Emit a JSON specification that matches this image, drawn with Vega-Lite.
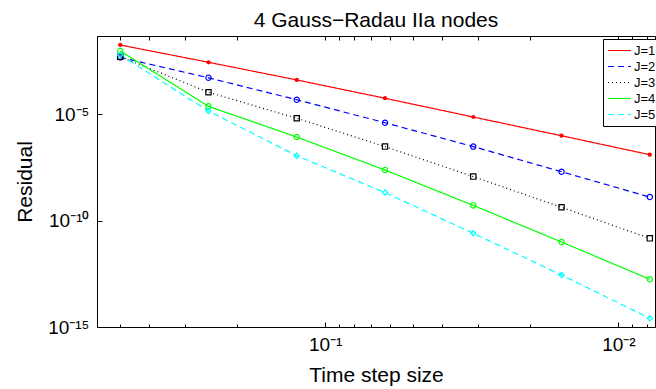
{
  "$schema": "https://vega.github.io/schema/vega-lite/v6.json",
  "width": 558,
  "height": 291,
  "autosize": {"type": "none"},
  "padding": {"left": 97, "top": 36, "right": 1, "bottom": 62},
  "background": "white",
  "title": {"text": "4 Gauss−Radau IIa nodes", "fontSize": 21, "fontWeight": "normal", "font": "Liberation Sans", "anchor": "middle", "offset": -12, "baseline": "alphabetic", "color": "black"},
  "config": {
    "view": {"stroke": "black", "strokeWidth": 1},
    "axis": {"grid": false, "domainColor": "black", "tickColor": "black", "labelColor": "black", "titleColor": "black", "labelFont": "Liberation Sans", "titleFont": "Liberation Sans", "labelFontSize": 19, "titleFontSize": 21, "titleFontWeight": "normal", "domainWidth": 1, "tickWidth": 1},
    "legend": {"labelFont": "Liberation Sans"}
  },
  "data": {"values": [
    {"h": 0.5, "series": "J=1", "r": 1.74e-2},
    {"h": 0.25, "series": "J=1", "r": 2.69e-3},
    {"h": 0.125, "series": "J=1", "r": 3.98e-4},
    {"h": 0.0625, "series": "J=1", "r": 5.50e-5},
    {"h": 0.03125, "series": "J=1", "r": 7.24e-6},
    {"h": 0.015625, "series": "J=1", "r": 9.55e-7},
    {"h": 0.0078125, "series": "J=1", "r": 1.23e-7},
    {"h": 0.5, "series": "J=2", "r": 4.57e-3},
    {"h": 0.25, "series": "J=2", "r": 5.01e-4},
    {"h": 0.125, "series": "J=2", "r": 4.68e-5},
    {"h": 0.0625, "series": "J=2", "r": 3.89e-6},
    {"h": 0.03125, "series": "J=2", "r": 2.95e-7},
    {"h": 0.015625, "series": "J=2", "r": 1.95e-8},
    {"h": 0.0078125, "series": "J=2", "r": 1.26e-9},
    {"h": 0.5, "series": "J=3", "r": 4.90e-3},
    {"h": 0.25, "series": "J=3", "r": 1.05e-4},
    {"h": 0.125, "series": "J=3", "r": 6.31e-6},
    {"h": 0.0625, "series": "J=3", "r": 2.95e-7},
    {"h": 0.03125, "series": "J=3", "r": 1.15e-8},
    {"h": 0.015625, "series": "J=3", "r": 4.17e-10},
    {"h": 0.0078125, "series": "J=3", "r": 1.45e-11},
    {"h": 0.5, "series": "J=4", "r": 9.12e-3},
    {"h": 0.25, "series": "J=4", "r": 2.29e-5},
    {"h": 0.125, "series": "J=4", "r": 8.32e-7},
    {"h": 0.0625, "series": "J=4", "r": 2.34e-8},
    {"h": 0.03125, "series": "J=4", "r": 5.13e-10},
    {"h": 0.015625, "series": "J=4", "r": 9.77e-12},
    {"h": 0.0078125, "series": "J=4", "r": 1.74e-13},
    {"h": 0.5, "series": "J=5", "r": 5.89e-3},
    {"h": 0.25, "series": "J=5", "r": 1.38e-5},
    {"h": 0.125, "series": "J=5", "r": 1.10e-7},
    {"h": 0.0625, "series": "J=5", "r": 2.04e-9},
    {"h": 0.03125, "series": "J=5", "r": 2.51e-11},
    {"h": 0.015625, "series": "J=5", "r": 2.75e-13},
    {"h": 0.0078125, "series": "J=5", "r": 2.57e-15}
  ]},
  "resolve": {"axis": {"x": "independent", "y": "independent"}},
  "layer": [
    {
      "mark": {"type": "line", "strokeWidth": 1.2},
      "encoding": {
        "x": {"field": "h", "type": "quantitative", "scale": {"type": "log", "domain": [0.0075, 0.6], "reverse": true, "nice": false},
              "axis": {"orient": "bottom", "values": [0.1, 0.01], "tickSize": -5, "labelPadding": 13, "labelExpr": "datum.value > 0.05 ? '10⁻¹' : '10⁻²'", "title": "Time step size", "titlePadding": 10, "domain": true}},
        "y": {"field": "r", "type": "quantitative", "scale": {"type": "log", "domain": [1e-15, 0.046], "nice": false},
              "axis": {"orient": "left", "values": [1e-15, 1e-10, 1e-5], "tickSize": -5, "labelPadding": 13, "labelExpr": "datum.value < 1e-14 ? '10⁻¹⁵' : (datum.value < 1e-9 ? '10⁻¹⁰' : '10⁻⁵')", "title": "Residual", "titlePadding": 12}},
        "color": {"field": "series", "type": "nominal",
                  "scale": {"domain": ["J=1", "J=2", "J=3", "J=4", "J=5"], "range": ["#ff0000", "#0000ff", "#000000", "#00ff00", "#00ffff"]},
                  "legend": {"title": null, "orient": "none", "legendX": 506, "legendY": 3, "strokeColor": "black", "fillColor": "white", "padding": 4, "labelFontSize": 13, "labelColor": "black", "symbolType": "stroke", "symbolSize": 529, "symbolStrokeWidth": 1.2, "rowPadding": 1, "labelOffset": 2, "clipHeight": 15}},
        "strokeDash": {"field": "series", "type": "nominal",
                       "scale": {"domain": ["J=1", "J=2", "J=3", "J=4", "J=5"], "range": [[1, 0], [6, 4], [1, 3], [1, 0], [6, 4]]}}
      }
    },
    {
      "transform": [{"filter": "datum.series != 'J=1'"}],
      "mark": {"type": "point", "filled": false, "strokeWidth": 1.2, "size": 28, "opacity": 1},
      "encoding": {
        "x": {"field": "h", "type": "quantitative", "axis": {"orient": "bottom", "values": [0.5, 0.4, 0.3, 0.2, 0.09, 0.08, 0.07, 0.06, 0.05, 0.04, 0.03, 0.02, 0.009, 0.008], "tickSize": -3, "labels": false, "domain": false, "title": null}},
        "y": {"field": "r", "type": "quantitative", "axis": null},
        "stroke": {"field": "series", "type": "nominal", "scale": {"domain": ["J=2", "J=3", "J=4", "J=5"], "range": ["#0000ff", "#000000", "#00ff00", "#00ffff"]}, "legend": null},
        "shape": {"field": "series", "type": "nominal", "scale": {"domain": ["J=2", "J=3", "J=4", "J=5"], "range": ["circle", "square", "circle", "diamond"]}, "legend": null}
      }
    },
    {
      "transform": [{"filter": "datum.series == 'J=1'"}],
      "mark": {"type": "point", "filled": true, "shape": "circle", "size": 18, "color": "#ff0000", "opacity": 1},
      "encoding": {
        "x": {"field": "h", "type": "quantitative", "axis": {"orient": "top", "values": [0.5, 0.4, 0.3, 0.2, 0.1, 0.09, 0.08, 0.07, 0.06, 0.05, 0.04, 0.03, 0.02, 0.01, 0.009, 0.008], "tickSize": -4, "labels": false, "domain": false, "title": null}},
        "y": {"field": "r", "type": "quantitative", "axis": null}
      }
    }
  ]
}
